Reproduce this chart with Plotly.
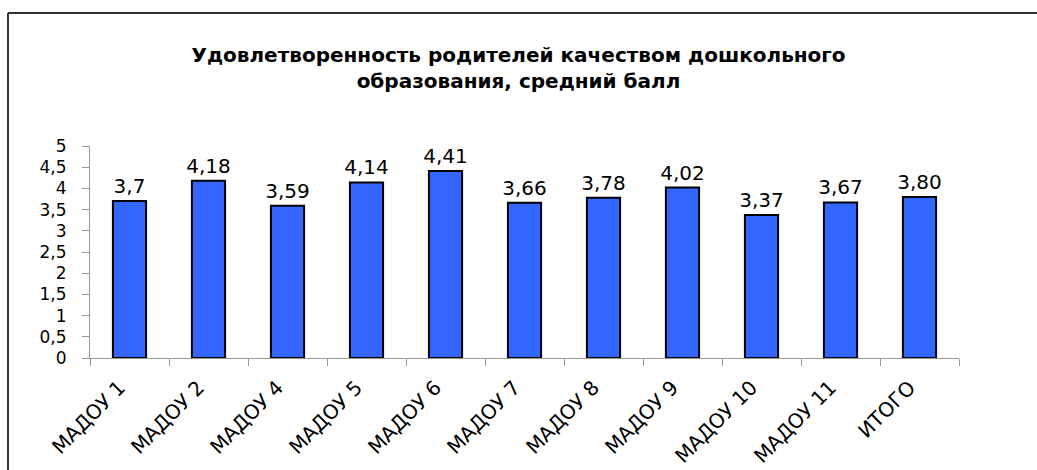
import plotly.graph_objects as go

categories = ["МАДОУ 1", "МАДОУ 2", "МАДОУ 4", "МАДОУ 5", "МАДОУ 6", "МАДОУ 7",
              "МАДОУ 8", "МАДОУ 9", "МАДОУ 10", "МАДОУ 11", "ИТОГО"]
values = [3.70, 4.18, 3.59, 4.14, 4.41, 3.66, 3.78, 4.02, 3.37, 3.67, 3.80]
value_labels = ["3,7", "4,18", "3,59", "4,14", "4,41", "3,66", "3,78", "4,02", "3,37", "3,67", "3,80"]
y_ticks = [0, 0.5, 1, 1.5, 2, 2.5, 3, 3.5, 4, 4.5, 5]

W, H = 1037, 470
ML, MR, MT, MB = 90, 78, 146, 112
PW, PH = W - ML - MR, H - MT - MB

def px_x(x):
    return (x - ML) / PW

def px_y(y):
    return 1 - (y - MT) / PH

FONT = "DejaVu Sans, Verdana, sans-serif"

fig = go.Figure(go.Bar(
    x=categories,
    y=values,
    text=value_labels,
    textposition="outside",
    constraintext="none",
    textfont=dict(family=FONT, size=20, color="#000000"),
    cliponaxis=False,
    marker=dict(color="#3366FF", line=dict(color="#000000", width=2)),
))

fig.update_layout(
    width=W, height=H,
    margin=dict(l=ML, r=MR, t=MT, b=MB),
    paper_bgcolor="#FFFFFF",
    plot_bgcolor="#FFFFFF",
    separators=", ",
    showlegend=False,
    bargap=0.58,
    font=dict(family=FONT, color="#000000"),
    title=dict(
        text="<b>Удовлетворенность родителей качеством дошкольного<br>образования, средний балл</b>",
        x=0.5, xref="container", xanchor="center",
        y=1 - 62 / H, yref="container", yanchor="top",
        font=dict(family=FONT, size=20, color="#000000"),
    ),
    xaxis=dict(
        type="category",
        tickangle=-45,
        tickson="boundaries",
        ticks="outside", ticklen=7, tickcolor="#999999",
        ticklabelstandoff=9,
        ticklabelshift=-10,
        showline=True, linecolor="#999999", linewidth=1,
        showgrid=False, automargin=False,
        tickfont=dict(family=FONT, size=20, color="#000000"),
    ),
    yaxis=dict(
        range=[0, 5],
        tickvals=y_ticks,
        ticks="outside", ticklen=7, tickcolor="#999999",
        ticklabelstandoff=12,
        showline=True, linecolor="#999999", linewidth=1,
        showgrid=False, zeroline=False, automargin=False,
        tickfont=dict(family=FONT, size=17, color="#000000"),
    ),
    shapes=[
        dict(type="line", xref="paper", yref="paper",
             x0=px_x(8), x1=px_x(8), y0=px_y(13), y1=px_y(480),
             line=dict(color="#333333", width=2)),
        dict(type="line", xref="paper", yref="paper",
             x0=px_x(8), x1=px_x(1045), y0=px_y(13), y1=px_y(13),
             line=dict(color="#333333", width=2)),
    ],
)

fig.write_html("out.html", config={"displayModeBar": False},
               post_script="document.body.style.margin='0';")
